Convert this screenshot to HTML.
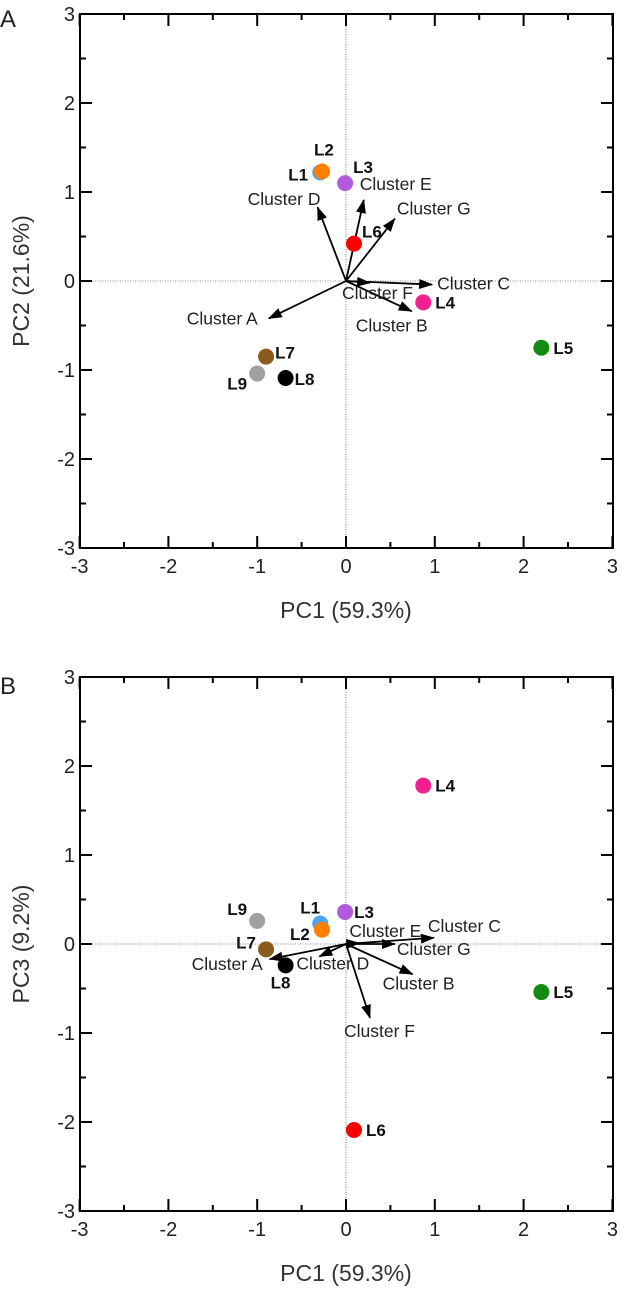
<!DOCTYPE html>
<html><head><meta charset="utf-8"><style>
html,body{margin:0;padding:0;background:#fff;width:622px;height:1302px;overflow:hidden}
svg text{font-family:"Liberation Sans","DejaVu Sans",sans-serif}
</style></head><body>
<svg id="chart" width="622" height="1302" viewBox="0 0 622 1302" xmlns="http://www.w3.org/2000/svg">
<defs><marker id="ah" markerWidth="14" markerHeight="10" refX="13" refY="5" orient="auto" markerUnits="userSpaceOnUse"><path d="M0,0 L14,5 L0,10 Z" fill="#000"/></marker></defs>
</svg>
<script>
const ticks=[-3,-2,-1,0,1,2,3];
const samples=["L1","L2","L3","L4","L5","L6","L7","L8","L9"];
const sampleColors=["#4da3f0","#ff8000","#b35adb","#f0208c","#118c11","#ff0000","#8b5a1e","#000000","#a0a0a0"];
const pc1=[-0.29,-0.27,-0.01,0.87,2.2,0.09,-0.9,-0.68,-1.0];
const pc2=[1.22,1.23,1.10,-0.24,-0.75,0.42,-0.85,-1.09,-1.04];
const pc3=[0.23,0.16,0.36,1.78,-0.54,-2.09,-0.06,-0.24,0.26];
const clusters=["Cluster A","Cluster B","Cluster C","Cluster D","Cluster E","Cluster F","Cluster G"];
const loadA_x=[-0.87,0.74,0.97,-0.32,0.2,0.27,0.55];
const loadA_y=[-0.42,-0.34,-0.04,0.83,0.91,-0.02,0.7];
const loadB_x=[-0.86,0.75,0.99,-0.3,0.15,0.27,0.55];
const loadB_y=[-0.17,-0.34,0.07,-0.14,0.01,-0.83,0.0];
// label offsets (layout only)
const offA_s=[[-32,8],[-8,-16],[8,-10],[12,6],[12,6],[8,-6],[9,2],[9,7],[-30,16]];
const offB_s=[[-20,-10],[-32,10],[9,6],[12,6],[12,6],[12,6],[-30,-1],[-15,23],[-30,-6]];
const offA_c=[[-82,6],[-56,20],[5,5],[-70,-2],[-4,-10],[-28,16],[2,-4]];
const offB_c=[[-78,11],[-30,15],[-6,-6],[-23,13],[-10,-6],[-26,19],[2,11]];
const svg=document.getElementById('chart');
const NS="http://www.w3.org/2000/svg";
function mk(t,a,p){const e=document.createElementNS(NS,t);for(const k in a)e.setAttribute(k,a[k]);(p||svg).appendChild(e);return e;}
function panel(top,letter,letterY,ylab,ys,lx,ly,offS,offC,nm){
  const L=80,R=613,T=top,B=top+534;
  const sx=v=>346+v*88.8, sy=v=>(T+B)/2-v*89;
  const g=mk('g',{});
  
  
  const pl=mk('text',{x:0,y:letterY,'font-size':24,fill:'#222'},g);pl.textContent=letter;
  
  
  const z1=mk('line',{x1:sx(0),x2:sx(0),y1:T,y2:B,stroke:'#666','stroke-width':0.8,'stroke-dasharray':'1,1.5'},g);
  
  
  const z2=mk('line',{x1:L,x2:R,y1:sy(0),y2:sy(0),stroke:'#666','stroke-width':0.8,'stroke-dasharray':'1,1.5'},g);
  
  
  const fr=mk('rect',{x:L,y:T,width:R-L,height:B-T,fill:'none',stroke:'#000','stroke-width':2},g);
  
  
  ticks.forEach(t=>{
    const x=sx(t),y=sy(t);
    [[x,B,x,B-12],[x,T,x,T+12],[L,y,L+12,y],[R,y,R-12,y]].forEach(c=>{
      const tl=mk('line',{x1:c[0],y1:c[1],x2:c[2],y2:c[3],stroke:'#000','stroke-width':2},g);
      
      });
    if(t<3){const h=t+0.5;const hx=sx(h),hy=sy(h);
      [[hx,B,hx,B-6],[hx,T,hx,T+6],[L,hy,L+6,hy],[R,hy,R-6,hy]].forEach(c=>{
        const tl=mk('line',{x1:c[0],y1:c[1],x2:c[2],y2:c[3],stroke:'#000','stroke-width':2},g);
        
        });}
    const xt=mk('text',{x:x,y:B+25,'font-size':20,'text-anchor':'middle',fill:'#222'},g);xt.textContent=t;
    
    
    const yt=mk('text',{x:L-5,y:y+7,'font-size':20,'text-anchor':'end',fill:'#222'},g);yt.textContent=t;
    
    
  });
  const xa=mk('text',{x:346,y:B+70,'font-size':23,'text-anchor':'middle',fill:'#333'},g);xa.textContent='PC1 (59.3%)';
  
  
  const ya=mk('text',{x:0,y:0,'font-size':23,'text-anchor':'middle',fill:'#333',transform:`translate(29,${(T+B)/2}) rotate(-90)`},g);ya.textContent=ylab;
  
  
  clusters.forEach((c,i)=>{
    const a=mk('line',{x1:sx(0),y1:sy(0),x2:sx(lx[i]),y2:sy(ly[i]),stroke:'#000','stroke-width':1.8,'marker-end':'url(#ah)'},g);
    
    
    const tx=mk('text',{x:sx(lx[i])+offC[i][0],y:sy(ly[i])+offC[i][1],'font-size':17.5,fill:'#222'},g);tx.textContent=c;
    
    
  });
  samples.forEach((s,i)=>{
    const p=mk('circle',{cx:sx(pc1[i]),cy:sy(ys[i]),r:8,fill:sampleColors[i]},g);
    
    
    const tx=mk('text',{x:sx(pc1[i])+offS[i][0],y:sy(ys[i])+offS[i][1],'font-size':17,'font-weight':'bold',fill:'#111'},g);tx.textContent=s;
    
    
  });
}
panel(14,'A',27,'PC2 (21.6%)',pc2,loadA_x,loadA_y,offA_s,offA_c,'panel-a-pc1-pc2');
panel(677,'B',694,'PC3 (9.2%)',pc3,loadB_x,loadB_y,offB_s,offB_c,'panel-b-pc1-pc3');
</script>
</body></html>
